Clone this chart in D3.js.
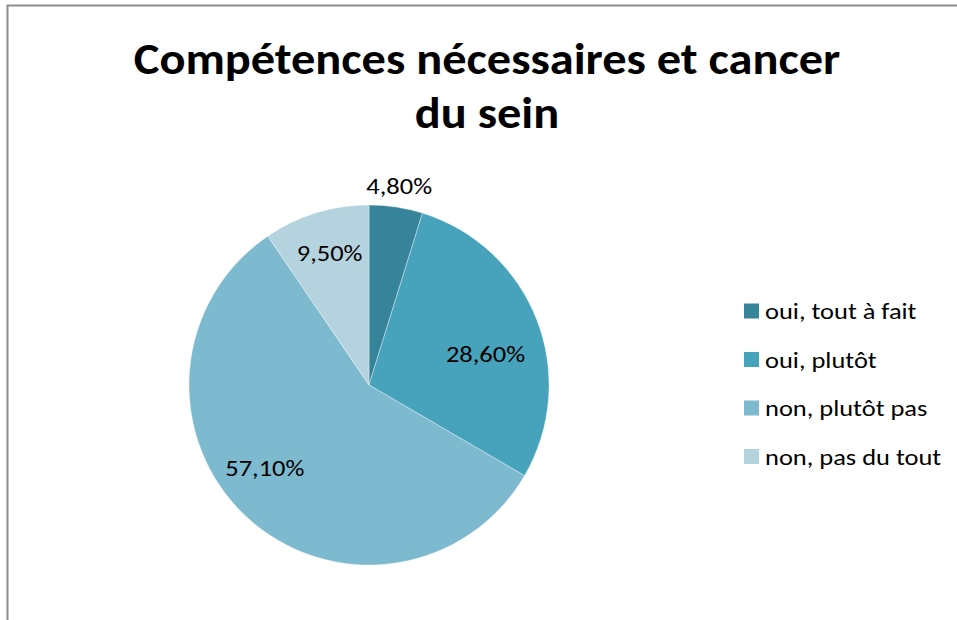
<!DOCTYPE html>
<html><head><meta charset="utf-8">
<script src="https://cdn.jsdelivr.net/npm/d3@7"></script>
<style>body{margin:0;background:#fff}svg{display:block}</style>
</head><body>
<svg id="c" width="957" height="620"></svg>
<script>
const categories = ["oui, tout à fait", "oui, plutôt", "non, plutôt pas", "non, pas du tout"];
const values = [4.8, 28.6, 57.1, 9.5];
const valueLabels = ["4,80%", "28,60%", "57,10%", "9,50%"];
const colors = ["#37849a", "#47a3bb", "#7db9cf", "#b5d3df"];
const titleLines = ["Compétences nécessaires et cancer", "du sein"];

const svg = d3.select("#c");
const font = "Carlito, Lato, 'Open Sans', sans-serif";
const SX = 1.15; // horizontal stretch to mimic the reference rendering

svg.append("rect").attr("x", 7.5).attr("y", 5.5).attr("width", 960).attr("height", 630)
  .attr("fill", "#fff").attr("stroke", "#8c8c8c").attr("stroke-width", 2);

svg.append("g").selectAll("text").data(titleLines).join("text")
  .attr("transform", (d, i) => `translate(487,${74 + i * 54}) scale(1.1,1)`)
  .attr("text-anchor", "middle").attr("font-family", font)
  .attr("font-weight", "bold").attr("font-size", 44).attr("fill", "#000")
  .text(d => d);

const cx = 369, cy = 385, R = 180;
const pie = d3.pie().sort(null).value(d => d)(values);
const arc = d3.arc().innerRadius(0).outerRadius(R);
const g = svg.append("g").attr("transform", `translate(${cx},${cy})`);
g.selectAll("path").data(pie).join("path")
  .attr("d", arc).attr("fill", (d, i) => colors[i])
  .attr("stroke", "rgba(255,255,255,0.5)").attr("stroke-width", 0.7);

// label placement: radius along slice bisector plus small best-fit nudge
const labelR = [201, 125, 138, 134];
const nudge = [[0, 0], [0, 14], [-10, -18], [0, -4]];
g.selectAll("text").data(pie).join("text")
  .attr("transform", (d, i) => {
    const a = (d.startAngle + d.endAngle) / 2;
    const x = Math.sin(a) * labelR[i] + nudge[i][0];
    const y = -Math.cos(a) * labelR[i] + nudge[i][1];
    return `translate(${x},${y}) scale(${SX},1)`;
  })
  .attr("text-anchor", "middle").attr("dy", "0.35em")
  .attr("font-family", font).attr("font-size", 23).attr("fill", "#000")
  .text((d, i) => valueLabels[i]);

const leg = svg.append("g").attr("transform", "translate(744,311)");
const rows = leg.selectAll("g").data(categories).join("g")
  .attr("transform", (d, i) => `translate(0,${i * 48.5})`);
rows.append("rect").attr("x", 0).attr("y", -7.5).attr("width", 15).attr("height", 15)
  .attr("fill", (d, i) => colors[i]);
rows.append("text").attr("transform", `translate(21,0) scale(${SX},1)`).attr("dy", "0.35em")
  .attr("font-family", font).attr("font-size", 23).attr("fill", "#000")
  .text(d => d);
</script>
</body></html>
